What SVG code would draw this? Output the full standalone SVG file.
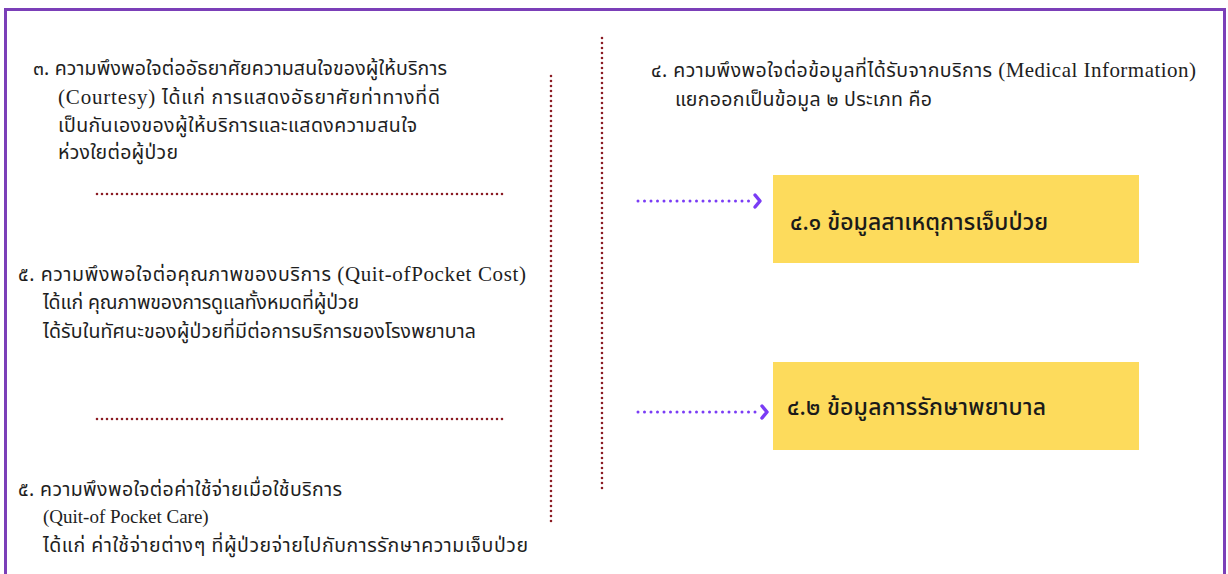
<svg xmlns="http://www.w3.org/2000/svg" width="1228" height="574" viewBox="0 0 1228 574">
<style>
.t{font-family:"Noto Sans","Noto Sans Thai","DejaVu Sans",sans-serif;font-size:19.5px;fill:#1e1e1e}
.s{font-family:"Liberation Serif","Noto Sans Thai",serif;font-size:21px}
.b{font-family:"Noto Sans","Noto Sans Thai","DejaVu Sans",sans-serif;font-size:23px;font-weight:500;fill:#1a1a1a}
.sep{stroke:#8b1c24;stroke-width:2.6;stroke-linecap:round;stroke-dasharray:0 5;fill:none}
.arr{stroke:#7a3cf5;stroke-width:3;stroke-linecap:round;stroke-dasharray:0 6.5;fill:none}
.head{stroke:#7a3cf5;stroke-width:3.5;stroke-linecap:round;stroke-linejoin:round;fill:none}
.box{fill:#fddb5c}
</style>
<rect x="0" y="0" width="1228" height="574" fill="#ffffff"/>
<path d="M5.5 574 V9.5 H1224.5 V574" fill="none" stroke="#7b3fb8" stroke-width="3"/>

<g id="item3">
<text class="t" x="33" y="75" textLength="414">๓. ความพึงพอใจต่ออัธยาศัยความสนใจของผู้ให้บริการ</text>
<text class="t" x="58" y="104" textLength="382"><tspan class="s">(Courtesy)</tspan> ได้แก่ การแสดงอัธยาศัยท่าทางที่ดี</text>
<text class="t" x="58" y="132" textLength="359">เป็นกันเองของผู้ให้บริการและแสดงความสนใจ</text>
<text class="t" x="58" y="159" textLength="120">ห่วงใยต่อผู้ป่วย</text>
</g>

<g id="item5a">
<text class="t" x="18" y="281" textLength="508">๕. ความพึงพอใจต่อคุณภาพของบริการ <tspan class="s">(Quit-ofPocket Cost)</tspan></text>
<text class="t" x="43" y="309" textLength="316">ได้แก่ คุณภาพของการดูแลทั้งหมดที่ผู้ป่วย</text>
<text class="t" x="43" y="338" textLength="433">ได้รับในทัศนะของผู้ป่วยที่มีต่อการบริการของโรงพยาบาล</text>
</g>

<g id="item5b">
<text class="t" x="18" y="496" textLength="324">๕. ความพึงพอใจต่อค่าใช้จ่ายเมื่อใช้บริการ</text>
<text class="t s" x="43" y="523" style="font-size:19px">(Quit-of Pocket Care)</text>
<text class="t" x="43" y="552" textLength="485">ได้แก่ ค่าใช้จ่ายต่างๆ ที่ผู้ป่วยจ่ายไปกับการรักษาความเจ็บป่วย</text>
</g>

<g id="item4">
<text class="t" x="651" y="77" textLength="545">๔. ความพึงพอใจต่อข้อมูลที่ได้รับจากบริการ <tspan class="s">(Medical Information)</tspan></text>
<text class="t" x="675" y="106" textLength="257">แยกออกเป็นข้อมูล ๒ ประเภท คือ</text>
</g>

<g id="box41">
<rect class="box" x="773" y="175" width="366" height="88"/>
<text class="b" x="790" y="230" textLength="258">๔.๑ ข้อมูลสาเหตุการเจ็บป่วย</text>
</g>

<g id="box42">
<rect class="box" x="773" y="362" width="366" height="88"/>
<text class="b" x="787" y="415" textLength="259">๔.๒ ข้อมูลการรักษาพยาบาล</text>
</g>

<g id="connectors">
<line class="sep" x1="97" y1="194" x2="507" y2="194"/>
<line class="sep" x1="97" y1="419" x2="507" y2="419"/>
<line class="sep" x1="551" y1="76" x2="551" y2="524"/>
<line class="sep" x1="602" y1="38" x2="602" y2="490"/>
<line class="arr" x1="638" y1="201" x2="752" y2="201"/>
<path class="head" d="M755 195 L760 201 L755 207"/>
<line class="arr" x1="638" y1="412" x2="760" y2="412"/>
<path class="head" d="M762 406 L767 412 L762 418"/>
</g>
</svg>
